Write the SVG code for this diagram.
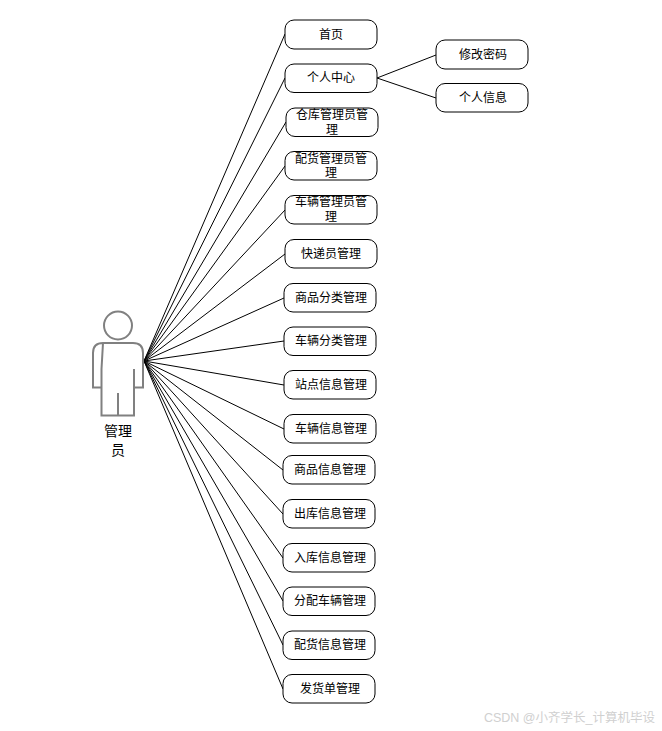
<svg xmlns="http://www.w3.org/2000/svg" width="662" height="731" viewBox="0 0 662 731">
<style>
.n rect{fill:#fff;stroke:#000;stroke-width:1}
text{font-family:"Liberation Sans","Noto Sans CJK SC",sans-serif;font-size:12px;text-anchor:middle;fill:#000}
#connectors line{stroke:#000;stroke-width:1;fill:none}
#actor *{fill:none;stroke:#808080;stroke-width:2}
#actor-label text{font-size:14px}
</style>
<rect width="662" height="731" fill="#fff"/>
<g id="connectors">
<line x1="144" y1="361" x2="285" y2="34"/>
<line x1="144" y1="361" x2="285" y2="78"/>
<line x1="144" y1="361" x2="286" y2="122"/>
<line x1="144" y1="361" x2="285" y2="166"/>
<line x1="144" y1="361" x2="285" y2="210"/>
<line x1="144" y1="361" x2="285" y2="254"/>
<line x1="144" y1="361" x2="284" y2="298"/>
<line x1="144" y1="361" x2="284" y2="341"/>
<line x1="144" y1="361" x2="284" y2="385"/>
<line x1="144" y1="361" x2="284" y2="429"/>
<line x1="144" y1="361" x2="283" y2="470"/>
<line x1="144" y1="361" x2="283" y2="514"/>
<line x1="144" y1="361" x2="283" y2="558"/>
<line x1="144" y1="361" x2="283" y2="601"/>
<line x1="144" y1="361" x2="283" y2="645"/>
<line x1="144" y1="361" x2="283" y2="689"/>
<line x1="377" y1="78" x2="436" y2="55"/>
<line x1="377" y1="78" x2="436" y2="98"/>
</g>
<g id="actor">
<circle cx="118" cy="325.500" r="14"/>
<path d="M103 343H133Q143 343 143 353V387.500H134V369M134 387.500V415.500H101.500V387.500M101.500 369V387.500H93V353Q93 343 103 343ZM118 393V415.500"/>
</g>
<g id="actor-label"><text x="118" y="436">管理</text><text x="118" y="455">员</text></g>
<g id="n1" class="n"><rect x="285" y="20" width="92" height="29" rx="9"/><text x="331" y="39">首页</text></g>
<g id="n2" class="n"><rect x="285" y="64" width="92" height="28.500" rx="9"/><text x="331" y="82">个人中心</text></g>
<g id="n2a" class="n"><rect x="436" y="40" width="92" height="29" rx="9"/><text x="483" y="59">修改密码</text></g>
<g id="n2b" class="n"><rect x="436" y="83.500" width="92" height="28.500" rx="9"/><text x="483" y="102">个人信息</text></g>
<g id="n3" class="n"><rect x="286" y="108" width="92" height="28.500" rx="9"/><text x="332" y="119">仓库管理员管</text><text x="332" y="134">理</text></g>
<g id="n4" class="n"><rect x="285" y="151.500" width="92" height="28.500" rx="9"/><text x="331" y="163">配货管理员管</text><text x="331" y="177">理</text></g>
<g id="n5" class="n"><rect x="285" y="195.500" width="92" height="28.500" rx="9"/><text x="331" y="206">车辆管理员管</text><text x="331" y="221">理</text></g>
<g id="n6" class="n"><rect x="285" y="239.500" width="92" height="28.500" rx="9"/><text x="331" y="258">快递员管理</text></g>
<g id="n7" class="n"><rect x="284" y="283.500" width="92" height="28.500" rx="9"/><text x="331" y="302">商品分类管理</text></g>
<g id="n8" class="n"><rect x="284" y="327" width="92" height="28.500" rx="9"/><text x="331" y="345">车辆分类管理</text></g>
<g id="n9" class="n"><rect x="284" y="370.500" width="92" height="28.500" rx="9"/><text x="331" y="389">站点信息管理</text></g>
<g id="n10" class="n"><rect x="284" y="414.500" width="92" height="28.500" rx="9"/><text x="331" y="433">车辆信息管理</text></g>
<g id="n11" class="n"><rect x="283" y="455.500" width="92" height="28.500" rx="9"/><text x="330" y="474">商品信息管理</text></g>
<g id="n12" class="n"><rect x="283" y="499.500" width="92" height="28.500" rx="9"/><text x="330" y="518">出库信息管理</text></g>
<g id="n13" class="n"><rect x="283" y="543.500" width="92" height="28.500" rx="9"/><text x="330" y="562">入库信息管理</text></g>
<g id="n14" class="n"><rect x="283" y="587" width="92" height="28.500" rx="9"/><text x="330" y="605">分配车辆管理</text></g>
<g id="n15" class="n"><rect x="283" y="631" width="92" height="28.500" rx="9"/><text x="330" y="649">配货信息管理</text></g>
<g id="n16" class="n"><rect x="283" y="674.500" width="92" height="28.500" rx="9"/><text x="330" y="693">发货单管理</text></g>
<text x="655" y="722" style="font-size:12.500px;text-anchor:end;fill:#d0d0d0">CSDN @小齐学长_计算机毕设</text>
</svg>
